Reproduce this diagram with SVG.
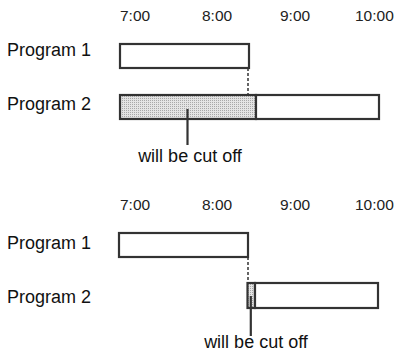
<svg xmlns="http://www.w3.org/2000/svg" width="399" height="353" viewBox="0 0 399 353">
<defs>
<pattern id="dots" width="2" height="2" patternUnits="userSpaceOnUse">
  <rect width="2" height="2" fill="#e4e4e4"/>
  <rect width="1" height="1" fill="#a8a8a8"/>
</pattern>
</defs>
<style>
.lbl{font-family:"Liberation Sans",Arial,sans-serif;font-size:18px;fill:#111}
.tm{font-family:"Liberation Sans",Arial,sans-serif;font-size:15.5px;fill:#222}
.box{fill:#fff;stroke:#333;stroke-width:2.2}
.cut{fill:url(#dots);stroke:#333;stroke-width:2.2}
.dash{stroke:#333;stroke-width:1.5;stroke-dasharray:3 2;fill:none}
.ptr{stroke:#333;stroke-width:2.2;fill:none}
</style>
<rect width="399" height="353" fill="#fff"/>
<g id="top">
  <g id="times1">
    <text class="tm" x="120" y="21">7:00</text>
    <text class="tm" x="202" y="21">8:00</text>
    <text class="tm" x="280" y="21">9:00</text>
    <text class="tm" x="355" y="21">10:00</text>
  </g>
  <g id="p1a">
    <text class="lbl" x="7" y="56">Program 1</text>
    <rect class="box" x="120" y="44" width="129" height="24"/>
  </g>
  <g id="p2a">
    <text class="lbl" x="7" y="110">Program 2</text>
    <rect class="cut" x="120" y="95" width="136" height="24"/>
    <rect class="box" x="256" y="95" width="123" height="24"/>
  </g>
  <g id="connectors1">
    <line class="dash" x1="248" y1="68" x2="248" y2="95"/>
    <line class="ptr" x1="187.5" y1="109" x2="187.5" y2="145"/>
  </g>
  <g id="note1">
    <text class="lbl" x="190" y="162" text-anchor="middle">will be cut off</text>
  </g>
</g>
<g id="bottom">
  <g id="times2">
    <text class="tm" x="120" y="210">7:00</text>
    <text class="tm" x="202" y="210">8:00</text>
    <text class="tm" x="280" y="210">9:00</text>
    <text class="tm" x="355" y="210">10:00</text>
  </g>
  <g id="p1b">
    <text class="lbl" x="7" y="249">Program 1</text>
    <rect class="box" x="119" y="233" width="129" height="24"/>
  </g>
  <g id="p2b">
    <text class="lbl" x="7" y="303">Program 2</text>
    <rect class="cut" x="247.5" y="283" width="7.5" height="25"/>
    <rect class="box" x="255" y="283" width="123" height="25"/>
  </g>
  <g id="connectors2">
    <line class="dash" x1="248" y1="257" x2="248" y2="283"/>
    <line class="ptr" x1="250.8" y1="296" x2="250.8" y2="336"/>
  </g>
  <g id="note2">
    <text class="lbl" x="256" y="348" text-anchor="middle">will be cut off</text>
  </g>
</g>
</svg>
